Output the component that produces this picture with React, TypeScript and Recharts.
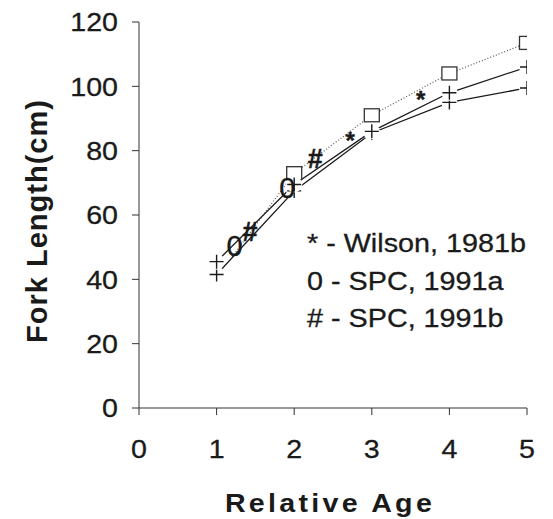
import { ComposedChart, Line, Scatter, XAxis, YAxis, Label } from 'recharts'

// relative age (x) and fork length in cm (y)
const AGES = [1, 2, 3, 4, 5]
const FL_UPPER = [45.5, 69.5, 86, 98, 106]
const FL_LOWER = [41.5, 67.5, 85.5, 95, 99.5]

const MEAN_AGES = [1.2, 2, 3, 4, 5]
const FL_MEAN = [47, 73, 91, 104, 113.5]

const WILSON_AGES = [2.72, 3.63]
const WILSON_FL = [85, 98]
const SPC_A_AGES = [1.23, 1.91]
const SPC_A_FL = [50.5, 68.5]
const SPC_B_AGES = [1.43, 2.27]
const SPC_B_FL = [55, 77.7]

const X_TICKS = [0, 1, 2, 3, 4, 5]
const Y_TICKS = [0, 20, 40, 60, 80, 100, 120]
const NOTES = ['* - Wilson, 1981b', '0 - SPC, 1991a', '# - SPC, 1991b']

const FONT = '"Liberation Sans", Arial, sans-serif'
const INK = '#1a1a1a'

const pts = (xs: number[], ys: number[]) => xs.map((age, i) => ({ age, fl: ys[i] }))

const upper = pts(AGES, FL_UPPER)
const lower = pts(AGES, FL_LOWER)
const mean = pts(MEAN_AGES, FL_MEAN)
const wilson = pts(WILSON_AGES, WILSON_FL)
const spcA = pts(SPC_A_AGES, SPC_A_FL)
const spcB = pts(SPC_B_AGES, SPC_B_FL)

function PlusDot(props: any) {
  const { cx, cy, index } = props
  if (cx == null || cy == null) return <g key={index} />
  return (
    <g key={index}>
      <circle cx={cx} cy={cy} r={8} fill="#fff" />
      <path
        d={`M${cx - 7},${cy}H${cx + 7}M${cx},${cy - 7}V${cy + 7}`}
        stroke={INK}
        strokeWidth={1.4}
      />
    </g>
  )
}

function SquareDot(props: any) {
  const { cx, cy, index, payload } = props
  if (cx == null || !Number.isInteger(payload.age)) return <g key={index} />
  return (
    <rect key={index} x={cx - 7.5} y={cy - 6.5} width={15} height={13} fill="#fff" stroke="#333" strokeWidth={1.3} />
  )
}

function charMark(ch: string, size: number, weight: string, dy: string) {
  return (props: any) => (
    <text
      x={props.cx}
      y={props.cy}
      dy={dy}
      textAnchor="middle"
      fontFamily={FONT}
      fontSize={size}
      fontWeight={weight}
      fill={INK}
      stroke={INK}
      strokeWidth={0.4}
    >
      {ch}
    </text>
  )
}

function YTick(props: any) {
  const { x, y, payload } = props
  return (
    <text transform={`translate(${x},${y}) scale(1.1,1)`} dy="0.36em" textAnchor="end" fontFamily={FONT} fontSize={26} fill={INK} stroke={INK} strokeWidth={0.3}>
      {payload.value}
    </text>
  )
}

function XTick(props: any) {
  const { x, y, payload } = props
  return (
    <text transform={`translate(${x},${y}) scale(1.1,1)`} dy="0.71em" textAnchor="middle" fontFamily={FONT} fontSize={26} fill={INK} stroke={INK} strokeWidth={0.3}>
      {payload.value}
    </text>
  )
}

export default function App() {
  return (
    <div style={{ position: 'absolute', left: 0, top: 0, width: 553, height: 519, background: '#fff' }}>
      <ComposedChart width={553} height={519} margin={{ top: 22, right: 26, bottom: 51, left: 0 }}>
        <XAxis
          type="number"
          dataKey="age"
          domain={[0, 5]}
          ticks={X_TICKS}
          height={60}
          tickSize={7}
          tickMargin={25}
          stroke="#333"
          tick={<XTick />}
          allowDataOverflow
        >
          <Label
            content={() => (
              <text
                transform="translate(330,512) scale(1.1,1)"
                textAnchor="middle"
                fontFamily={FONT}
                fontSize={26}
                fontWeight="bold"
                letterSpacing={3}
                fill={INK}
              >
                Relative Age
              </text>
            )}
          />
        </XAxis>
        <YAxis
          type="number"
          dataKey="fl"
          domain={[0, 120]}
          ticks={Y_TICKS}
          width={139}
          tickSize={7}
          tickMargin={14}
          stroke="#333"
          tick={<YTick />}
        >
          <Label
            content={() => (
              <text
                transform="translate(47,221) rotate(-90)"
                textAnchor="middle"
                fontFamily={FONT}
                fontSize={29}
                fontWeight="bold"
                letterSpacing={1}
                fill={INK}
              >
                Fork Length(cm)
              </text>
            )}
          />
        </YAxis>

        <Line
          data={mean}
          dataKey="fl"
          type="linear"
          stroke="#555"
          strokeWidth={1.2}
          strokeDasharray="1 2"
          dot={<SquareDot />}
          isAnimationActive={false}
        />
        <Line
          data={lower}
          dataKey="fl"
          type="linear"
          stroke={INK}
          strokeWidth={1.3}
          dot={<PlusDot />}
          isAnimationActive={false}
        />
        <Line
          data={upper}
          dataKey="fl"
          type="linear"
          stroke={INK}
          strokeWidth={1.3}
          dot={<PlusDot />}
          isAnimationActive={false}
        />
        <Scatter data={spcA} dataKey="fl" shape={charMark('0', 29, 'normal', '0.36em')} isAnimationActive={false} />
        <Scatter data={spcB} dataKey="fl" shape={charMark('#', 27, 'bold', '0.36em')} isAnimationActive={false} />
        <Scatter data={wilson} dataKey="fl" shape={charMark('*', 24, 'bold', '0.62em')} isAnimationActive={false} />

        {NOTES.map((t, i) => (
          <text
            key={t}
            transform={`translate(307,${252 + i * 37.5}) scale(1.15,1)`}
            fontFamily={FONT}
            fontSize={25}
            fill={INK}
            stroke={INK}
            strokeWidth={0.3}
          >
            {t}
          </text>
        ))}
      </ComposedChart>
    </div>
  )
}
